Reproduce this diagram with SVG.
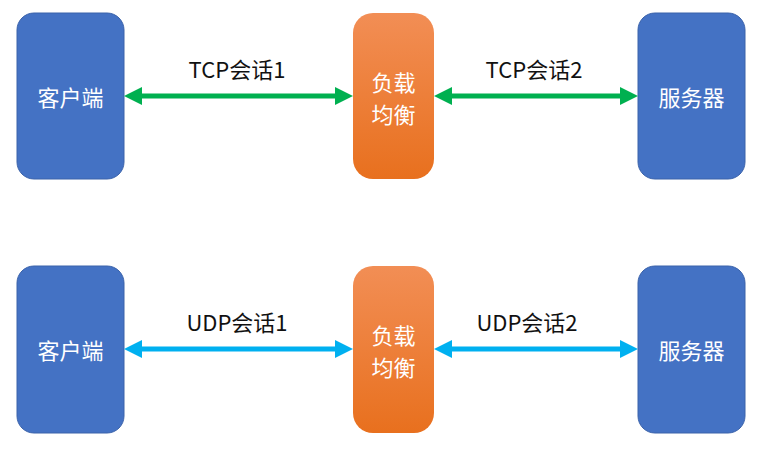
<svg xmlns="http://www.w3.org/2000/svg" width="759" height="452" viewBox="0 0 759 452">
<defs>
<linearGradient id="og" x1="0" y1="0" x2="0" y2="1">
<stop offset="0" stop-color="#F28E55"/>
<stop offset="1" stop-color="#E8701E"/>
</linearGradient>
<style>
.blue{fill:#4472C4;stroke:#3A62AA;stroke-width:1}
.orange{fill:url(#og);stroke:none}
.nt{font-family:"Microsoft YaHei","Noto Sans CJK SC",sans-serif;font-size:22px;fill:#FFFFFF;text-anchor:middle;dominant-baseline:central}
.lt{font-family:"Microsoft YaHei","Noto Sans CJK SC",sans-serif;font-size:22px;fill:#111111;text-anchor:middle}
.g{stroke:#00B050;stroke-width:5;fill:none}
.gh{fill:#00B050}
.c{stroke:#00B0F0;stroke-width:5;fill:none}
.ch{fill:#00B0F0}
</style>
</defs>
<rect width="759" height="452" fill="#FFFFFF"/>
<g id="client1"><rect class="blue" x="17" y="13" width="107" height="166" rx="17"/><text class="nt" x="70.5" y="96">客户端</text></g>
<g id="lb1"><rect class="orange" x="353" y="13" width="81" height="166" rx="20"/><text class="nt" x="393.5" y="81">负载</text><text class="nt" x="393.5" y="113">均衡</text></g>
<g id="server1"><rect class="blue" x="638" y="13" width="107" height="166" rx="17"/><text class="nt" x="691.5" y="96">服务器</text></g>
<g id="client2"><rect class="blue" x="17" y="266" width="107" height="167" rx="17"/><text class="nt" x="70.5" y="349">客户端</text></g>
<g id="lb2"><rect class="orange" x="353" y="266" width="81" height="167" rx="20"/><text class="nt" x="393.5" y="334">负载</text><text class="nt" x="393.5" y="366">均衡</text></g>
<g id="server2"><rect class="blue" x="638" y="266" width="107" height="167" rx="17"/><text class="nt" x="691.5" y="349">服务器</text></g>
<g id="connectors">
<line class="g" x1="140" y1="96" x2="337" y2="96"/>
<polygon class="gh" points="124,96 142,87 142,105"/>
<polygon class="gh" points="353,96 335,87 335,105"/>
<line class="g" x1="450" y1="96" x2="622" y2="96"/>
<polygon class="gh" points="434,96 452,87 452,105"/>
<polygon class="gh" points="638,96 620,87 620,105"/>
<line class="c" x1="140" y1="349" x2="337" y2="349"/>
<polygon class="ch" points="124,349 142,340 142,358"/>
<polygon class="ch" points="353,349 335,340 335,358"/>
<line class="c" x1="450" y1="349" x2="622" y2="349"/>
<polygon class="ch" points="434,349 452,340 452,358"/>
<polygon class="ch" points="638,349 620,340 620,358"/>
<text class="lt" x="237" y="78">TCP会话1</text>
<text class="lt" x="534" y="78">TCP会话2</text>
<text class="lt" x="237" y="331">UDP会话1</text>
<text class="lt" x="527" y="331">UDP会话2</text>
</g>
</svg>
